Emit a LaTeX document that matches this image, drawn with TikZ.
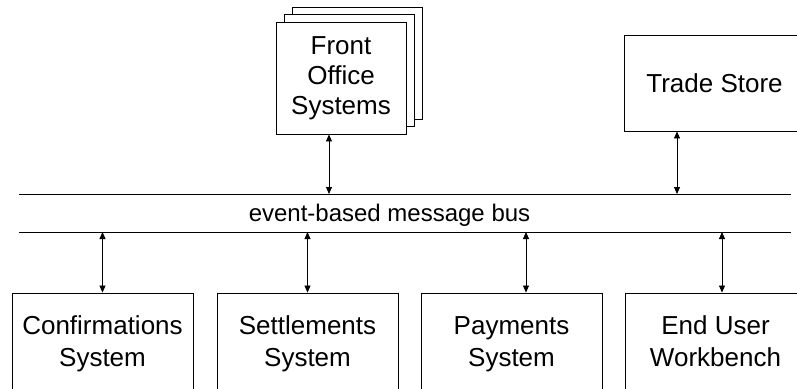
\documentclass[tikz,border=0pt]{standalone}
\usepackage{fontspec}
\setmainfont{Liberation Sans}
\usetikzlibrary{arrows.meta}
\begin{document}
\begin{tikzpicture}[x=1pt,y=-1pt,
  box/.style={draw, line width=0.9pt, fill=white, align=center, inner sep=0pt,
              font=\fontsize{26}{31.5}\selectfont},
  stackbox/.style={box, minimum width=130pt, minimum height=112pt},
  wide/.style={box, minimum width=181pt},
  biarrow/.style={line width=0.8pt,
     {Triangle[length=7pt,width=6pt]}-{Triangle[length=7pt,width=6pt]}},
  busline/.style={line width=0.9pt},
  buslabel/.style={inner sep=0pt, font=\fontsize{24}{28}\selectfont}]
\clip (0,0) rectangle (797,388);

% stacked front office boxes
\node[stackbox] (fo3) at (357,63) {};
\node[stackbox] (fo2) at (349,70.5) {};
\node[stackbox, font=\fontsize{26}{30}\selectfont] (fo) at (341,78) {Front\\Office\\Systems};

\node[wide, minimum height=96pt] (ts) at (714.5,83) {Trade Store};

% message bus
\coordinate (busTL) at (19,194);
\coordinate (busTR) at (791,194);
\coordinate (busBL) at (19,232);
\coordinate (busBR) at (791,232);
\draw[busline] (busTL) -- (busTR);
\draw[busline] (busBL) -- (busBR);
\node[buslabel] (bus) at (389.5,215.7) {event-based message bus};

% back office systems
\node[wide, minimum height=102pt] (conf) at (102.5,344) {Confirmations\\System};
\node[wide, minimum height=102pt] (sett) at (307.5,344) {Settlements\\System};
\node[wide, minimum height=102pt] (pay) at (511.5,344) {Payments\\System};
\node[wide, minimum height=102pt] (eu) at (715.5,344) {End User\\Workbench\vphantom{y}};

% connectors to the bus
\coordinate (foA) at ([xshift=-12pt]fo.south);
\coordinate (tsA) at ([xshift=-37.5pt]ts.south);
\coordinate (confA) at (conf.north);
\coordinate (settA) at (sett.north);
\coordinate (payA) at ([xshift=14.5pt]pay.north);
\coordinate (euA) at ([xshift=6.5pt]eu.north);

\draw[biarrow] (foA) -- (foA |- busTL);
\draw[biarrow] (tsA) -- (tsA |- busTL);
\draw[biarrow] (confA |- busBL) -- (confA);
\draw[biarrow] (settA |- busBL) -- (settA);
\draw[biarrow] (payA |- busBL) -- (payA);
\draw[biarrow] (euA |- busBL) -- (euA);
\end{tikzpicture}
\end{document}
